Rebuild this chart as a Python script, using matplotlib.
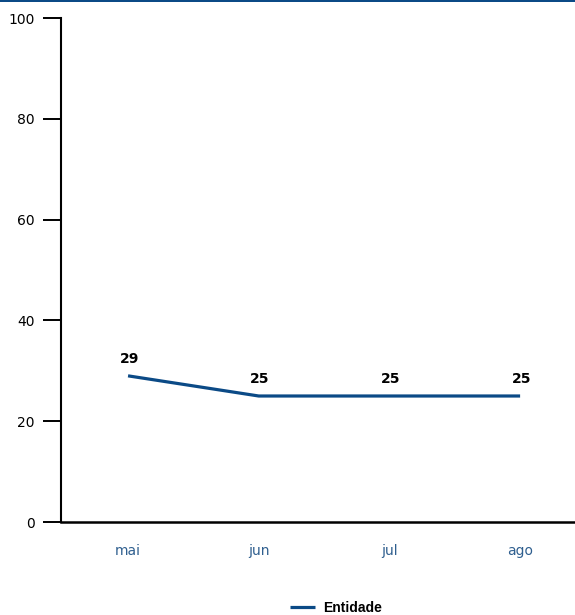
import matplotlib
matplotlib.use("Agg")
import matplotlib.pyplot as plt
from matplotlib.patches import Rectangle

# dados
meses = ['mai', 'jun', 'jul', 'ago']
entidade = [29, 25, 25, 25]
y_ticks = [0, 20, 40, 60, 80, 100]

AZUL = '#0b4a86'
AZUL_TICK = '#2f5f8f'

plt.rcParams['font.family'] = ['DejaVu Sans']

fig = plt.figure(figsize=(5.75, 6.15), dpi=100)
ax = fig.add_axes([61 / 575, 1 - 522 / 615, 1 - 61 / 575, (522 - 18) / 615])

x = list(range(len(meses)))
ax.plot(x, entidade, color=AZUL, linewidth=2.3, label='Entidade', solid_capstyle='butt')

# rótulos de valor
for xi, v in zip(x, entidade):
    ax.annotate(f'{v}', (xi, v), xytext=(1, 7), textcoords='offset points',
                ha='center', va='bottom', fontsize=10, fontweight='bold', color='black')

ax.set_xlim(-0.513, 3.42)
ax.set_ylim(0, 100)
ax.set_xticks(x)
ax.set_xticklabels(meses)
ax.set_yticks(y_ticks)

for side in ['top', 'right']:
    ax.spines[side].set_visible(False)
ax.spines['left'].set_linewidth(1.5)
ax.spines['bottom'].set_linewidth(1.8)

ax.tick_params(axis='y', length=13, width=1.4, pad=6, labelsize=10, colors='black')
ax.tick_params(axis='x', length=0, pad=16, labelsize=10, labelcolor=AZUL_TICK)

# linha azul no topo
fig.patches.append(Rectangle((0, 1 - 2 / 615), 1, 2 / 615, transform=fig.transFigure,
                             facecolor=AZUL, edgecolor='none'))

fig.legend(loc='center', bbox_to_anchor=(336 / 575, 7 / 615), frameon=False,
           handlelength=1.8, handletextpad=0.6,
           prop={'family': 'Liberation Sans', 'weight': 'bold', 'size': 10})

fig.savefig('out.png', dpi=100, facecolor='white')
